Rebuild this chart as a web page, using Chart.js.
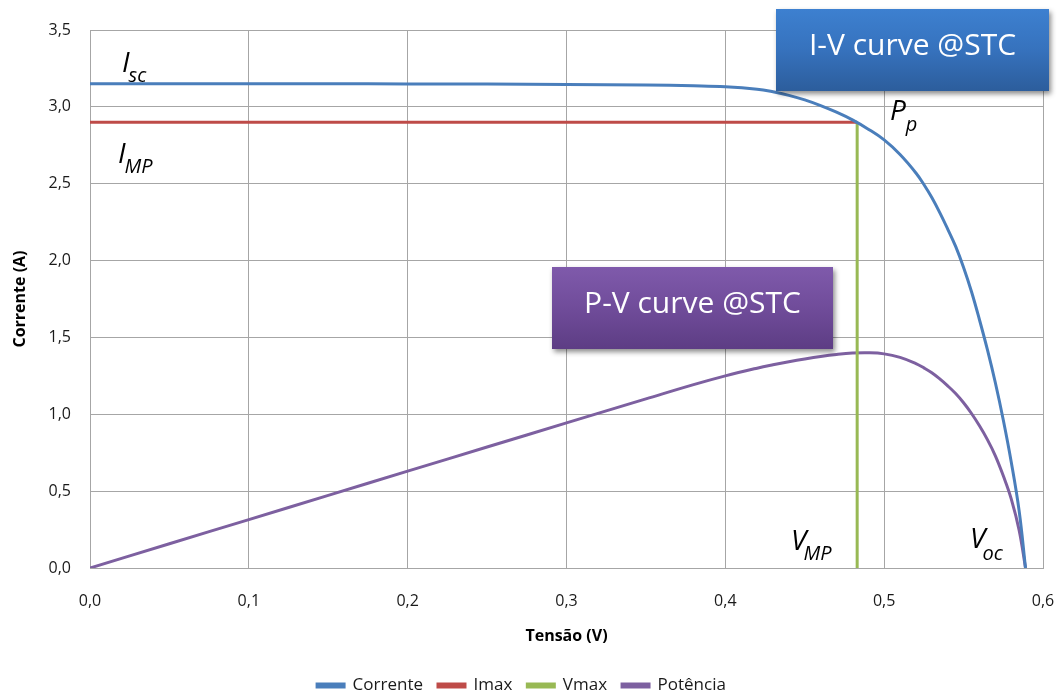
<!DOCTYPE html>
<html><head><meta charset="utf-8">
<script src="https://cdn.jsdelivr.net/npm/chart.js@4/dist/chart.umd.min.js"></script>
<style>html,body{margin:0;padding:0;background:#fff}#wrap{width:1061px;height:698px;position:relative}</style>
</head><body><div id="wrap"><canvas id="c" width="1061" height="698"></canvas></div>
<script>
// ---- data ----
const voltage = [0, 0.05, 0.10, 0.15, 0.20, 0.25, 0.30, 0.35, 0.38, 0.40, 0.42, 0.43, 0.44, 0.45, 0.46, 0.47, 0.48, 0.49, 0.50, 0.51, 0.52, 0.525, 0.53, 0.535, 0.54, 0.545, 0.55, 0.555, 0.56, 0.565, 0.57, 0.575, 0.58, 0.585, 0.589];
const current = [3.150, 3.150, 3.150, 3.150, 3.149, 3.148, 3.146, 3.142, 3.137, 3.131, 3.115, 3.098, 3.075, 3.045, 3.008, 2.965, 2.915, 2.855, 2.785, 2.69, 2.57, 2.495, 2.41, 2.312, 2.205, 2.092, 1.955, 1.797, 1.615, 1.42, 1.205, 0.963, 0.69, 0.37, 0];
const power   = [0, 0.1575, 0.315, 0.4725, 0.63, 0.787, 0.944, 1.10, 1.193, 1.25, 1.30, 1.322, 1.342, 1.36, 1.376, 1.389, 1.398, 1.400, 1.393, 1.37, 1.33, 1.302, 1.27, 1.23, 1.185, 1.135, 1.075, 1.005, 0.925, 0.835, 0.73, 0.60, 0.45, 0.245, 0];
const imaxVoltage = [0, 0.483];
const imaxCurrent = [2.90, 2.90];
const vmaxVoltage = [0.483, 0.483];
const vmaxCurrent = [0, 2.90];
const seriesNames = ['Corrente', 'Imax', 'Vmax', 'Potência'];
const xTickLabels = ['0,0', '0,1', '0,2', '0,3', '0,4', '0,5', '0,6'];
const yTickLabels = ['0,0', '0,5', '1,0', '1,5', '2,0', '2,5', '3,0', '3,5'];
const xTitle = 'Tensão (V)';
const yTitle = 'Corrente (A)';
const boxTexts = ['I-V curve @STC', 'P-V curve @STC'];

const colors = ['#4a7ebb', '#be4b48', '#98b954', '#7d60a0'];
const pts = (xs, ys) => xs.map((x, i) => ({x: x, y: ys[i]}));

const annot = {
  id: 'annot',
  afterDatasetsDraw(chart) {
    const ctx = chart.ctx;
    function box(x1, y1, x2, y2, cTop, cBot, text, ty) {
      ctx.save();
      ctx.shadowColor = 'rgba(0,0,0,0.45)';
      ctx.shadowBlur = 5; ctx.shadowOffsetX = 2; ctx.shadowOffsetY = 3;
      const g = ctx.createLinearGradient(0, y1, 0, y2);
      g.addColorStop(0, cTop[0]); g.addColorStop(0.5, cTop[1]); g.addColorStop(1, cBot);
      ctx.fillStyle = g;
      ctx.fillRect(x1, y1, x2 - x1, y2 - y1);
      ctx.restore();
      ctx.save();
      ctx.fillStyle = '#ffffff';
      ctx.font = '30px "Open Sans"';
      ctx.textAlign = 'center'; ctx.textBaseline = 'middle';
      ctx.fillText(text, (x1 + x2) / 2, ty);
      ctx.restore();
    }
    box(776, 9, 1049, 91, ['#3d80d0', '#3672bd'], '#2c5d9c', boxTexts[0], 46);
    box(552, 267, 833, 349, ['#7f5aab', '#704c9a'], '#5d3d84', boxTexts[1], 304);
    function lab(main, sub, x, base, subDx, subBase) {
      ctx.save();
      ctx.fillStyle = '#000';
      ctx.textBaseline = 'alphabetic'; ctx.textAlign = 'left';
      ctx.font = 'italic 28px "Open Sans"';
      ctx.fillText(main, x, base);
      const w = ctx.measureText(main).width;
      ctx.font = 'italic 20px "Open Sans"';
      ctx.fillText(sub, x + w + subDx, subBase);
      ctx.restore();
    }
    lab('I', 'sc', 122, 72, -1, 82);
    lab('I', 'MP', 118, 163, -1, 173);
    lab('P', 'p', 890, 120, 0, 131);
    lab('V', 'MP', 791, 550, -3, 560);
    lab('V', 'oc', 970, 548, -3, 560);
  }
};

const gridColor = '#a6a6a6';
new Chart(document.getElementById('c'), {
  type: 'line',
  data: {
    datasets: [
      {label: seriesNames[0], data: pts(voltage, current), borderColor: colors[0], backgroundColor: colors[0], borderWidth: 3, pointRadius: 0, tension: 0.4},
      {label: seriesNames[1], data: pts(imaxVoltage, imaxCurrent), borderColor: colors[1], backgroundColor: colors[1], borderWidth: 3, pointRadius: 0},
      {label: seriesNames[2], data: pts(vmaxVoltage, vmaxCurrent), borderColor: colors[2], backgroundColor: colors[2], borderWidth: 3, pointRadius: 0},
      {label: seriesNames[3], data: pts(voltage, power), borderColor: colors[3], backgroundColor: colors[3], borderWidth: 3, pointRadius: 0, tension: 0.4}
    ]
  },
  options: {
    responsive: false,
    animation: false,
    devicePixelRatio: 1,
    layout: {padding: {left: 0, right: 18, top: 30, bottom: 0}},
    plugins: {
      tooltip: {enabled: false},
      legend: {
        position: 'bottom',
        maxHeight: 36,
        labels: {boxWidth: 27, boxHeight: 3, padding: 15, color: '#1a1a1a', font: {family: '"Open Sans"', size: 17}}
      }
    },
    scales: {
      x: {
        type: 'linear', min: 0, max: 0.6,
        afterFit: s => { s.height = 94; s.paddingRight = 14; },
        grid: {color: gridColor, drawTicks: false},
        border: {color: gridColor},
        ticks: {stepSize: 0.1, padding: 24, color: '#1a1a1a', font: {family: '"Open Sans"', size: 16},
          callback: (v) => xTickLabels[Math.round(v * 10)]},
        title: {display: true, text: xTitle, color: '#000', font: {family: '"Open Sans"', size: 16, weight: 'bold'}, padding: {top: 0, bottom: 16}}
      },
      y: {
        type: 'linear', min: 0, max: 3.5,
        afterFit: s => { s.width = 90; },
        grid: {color: gridColor, drawTicks: false},
        border: {color: gridColor},
        ticks: {stepSize: 0.5, padding: 19, color: '#1a1a1a', font: {family: '"Open Sans"', size: 16},
          callback: (v) => yTickLabels[Math.round(v * 2)]},
        title: {display: true, text: yTitle, color: '#000', font: {family: '"Open Sans"', size: 16, weight: 'bold'}, padding: {top: 11, bottom: 0}}
      }
    }
  },
  plugins: [annot]
});
</script>
</body></html>
